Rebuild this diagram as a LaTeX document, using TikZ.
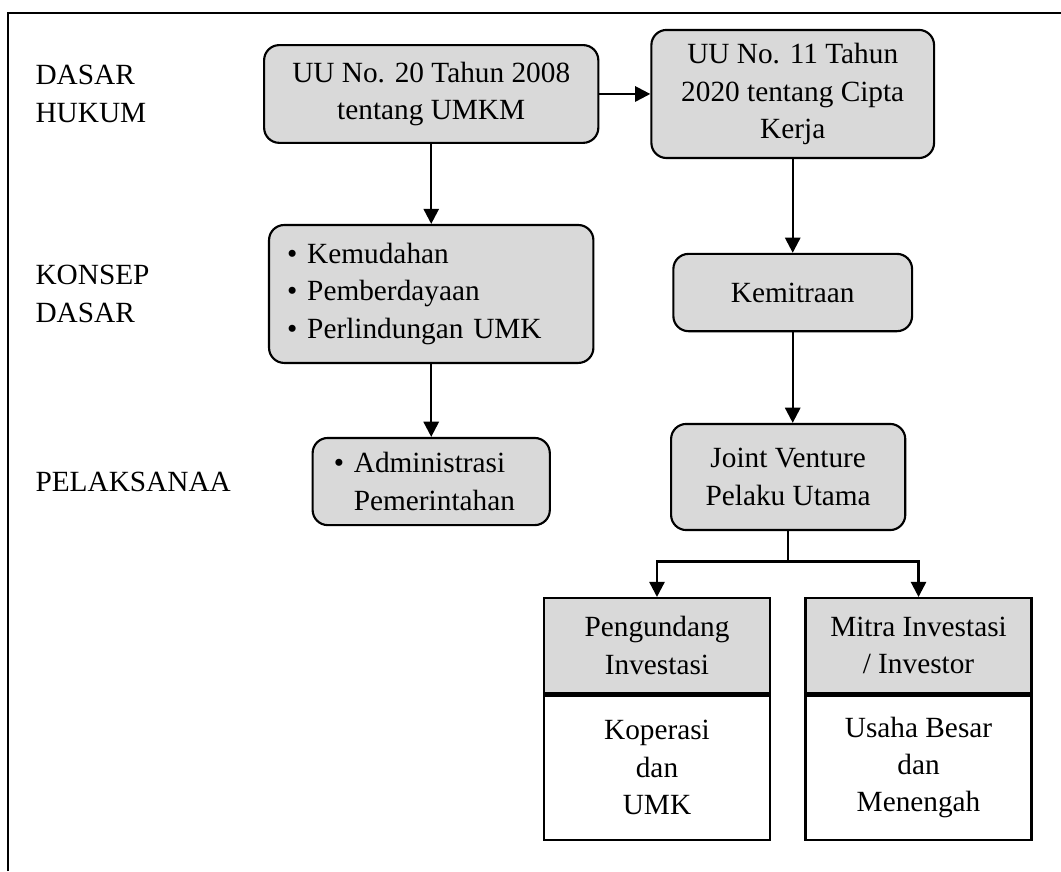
\documentclass[tikz,border=0pt]{standalone}
\usepackage{fontspec}
\setmainfont{Liberation Serif}
\usepackage{tikz}
\usetikzlibrary{arrows.meta,positioning}
\definecolor{boxgray}{HTML}{D9D9D9}

\begin{document}
\begin{tikzpicture}[
  font=\fontsize{11}{14}\selectfont,
  box/.style={rectangle, rounded corners=2mm, draw=black, line width=0.8pt, fill=boxgray, align=center, inner sep=0pt},
  head/.style={rectangle, draw=black, line width=0.9pt, fill=boxgray, minimum width=2.98cm, minimum height=1.25cm, align=center},
  body/.style={head, fill=white, minimum height=1.91cm},
  side/.style={anchor=west, align=left, inner xsep=0pt},
  arrow/.style={-{Triangle[length=2mm, width=2mm]}, line width=0.9pt, draw=black}
]
\useasboundingbox (0,0) rectangle (14,11.493);
% frame
\draw[line width=1pt] (0.106,0) -- (0.106,11.32) -- (14,11.32);

\node[box, minimum width=4.41cm, minimum height=1.29cm] (umkm) at (5.69,10.253) {UU No. 20 Tahun 2008\\tentang UMKM};
\node[box, minimum width=3.73cm, minimum height=1.69cm] (ciptakerja) at (10.46,10.253) {UU No. 11 Tahun\\2020 tentang Cipta\\Kerja};
\node[box, align=left, inner xsep=0.24cm, text width=3.80cm, minimum height=1.82cm] (konsep) at (5.69,7.614) {\textbullet~Kemudahan\\\textbullet~Pemberdayaan\\\textbullet~Perlindungan UMK};
\node[box, align=left, inner xsep=0.28cm, text width=2.57cm, minimum height=1.15cm] (admin) at (5.69,5.139) {\textbullet~Administrasi\\\phantom{\textbullet~}Pemerintahan};
\node[box, minimum width=3.15cm, minimum height=1.02cm] (kemitraan) at (10.46,7.633) {Kemitraan};
\node[box, minimum width=3.09cm, minimum height=1.40cm] (jv) at (10.40,5.199) {Joint Venture\\Pelaku Utama};

\node[head] (pengundang) at (8.669,2.975) {Pengundang\\Investasi};
\node[body, below=0pt of pengundang] (koperasi) {Koperasi\\dan\\UMK};
\node[head] (mitra) at (12.12,2.975) {Mitra Investasi\\/ Investor};
\node[body, below=0pt of mitra] (usaha) {Usaha Besar\\dan\\Menengah};

% row labels
\coordinate (lft) at (0.462,0);
\node[side] (hukum) at (umkm -| lft) {DASAR\\HUKUM};
\node[side] (konsepdasar) at (konsep -| lft) {KONSEP\\DASAR};
\node[side] (pelaksanaan) at (admin -| lft) {PELAKSANAA};

\draw[arrow] (umkm) -- (ciptakerja);
\draw[arrow] (umkm) -- (konsep);
\draw[arrow] (konsep) -- (admin);
\draw[arrow] (ciptakerja) -- (kemitraan);
\draw[arrow] (kemitraan) -- (kemitraan |- jv.north);
\draw[arrow] (jv.south) -- ++(0,-0.4) -| (pengundang.north);
\draw[arrow] (jv.south) -- ++(0,-0.4) -| (mitra.north);
\end{tikzpicture}
\end{document}
